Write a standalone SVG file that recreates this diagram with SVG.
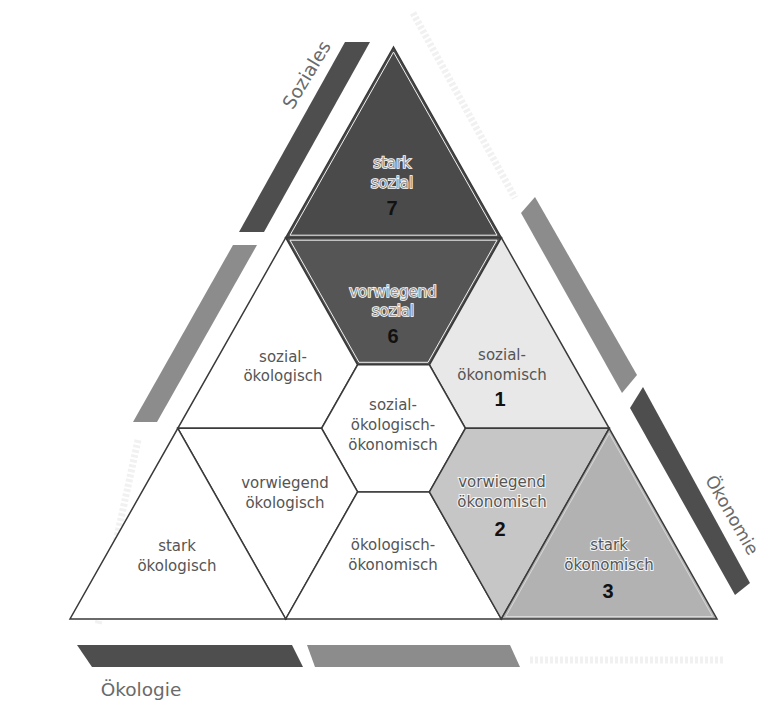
<svg xmlns="http://www.w3.org/2000/svg" width="765" height="704" viewBox="0 0 765 704">
<style>
.reg{stroke:#3a3a3a;stroke-width:1.5;stroke-linejoin:miter}
.inner{fill:none;stroke:#f2f2f2;stroke-width:1}
.lbl{font-family:"DejaVu Sans",sans-serif;font-size:15px;fill:#555;text-anchor:middle}
.halo{font-family:"DejaVu Sans",sans-serif;font-size:15px;fill:#9a9a9a;stroke:#ffffff;stroke-width:1.6;paint-order:stroke;text-anchor:middle}
.halo2{font-family:"DejaVu Sans",sans-serif;font-size:15px;fill:#555;stroke:#f4f4f4;stroke-width:2;paint-order:stroke;text-anchor:middle}
.num{font-family:"Liberation Sans",Arial,sans-serif;font-size:20px;font-weight:bold;fill:#111;text-anchor:middle}
.axis{font-family:"DejaVu Sans",sans-serif;font-size:18.5px;fill:#6a6a6a;text-anchor:middle}
.dark{fill:#4e4e4e}
.mid{fill:#8c8c8c}
.faint{fill:none;stroke:#f1f1f1;stroke-width:7;stroke-dasharray:3 2}
</style>
<rect width="765" height="704" fill="#ffffff"/>

<g id="bars">
  <polygon class="dark" points="345,42 370,42 264,232 239,232"/>
  <polygon class="mid" points="233,245 257,245 157,422 133,422"/>
  <polygon class="mid" points="535,197 637,375 622,393 521,213"/>
  <polygon class="dark" points="643,387 750,583 735,595 630,408"/>
  <polygon class="dark" points="77,645 292,645 303,667 92,667"/>
  <polygon class="mid" points="307,645 510,645 520,667 315,667"/>
  <line class="faint" x1="413" y1="13" x2="515" y2="198"/>
  <line class="faint" x1="138" y1="440" x2="98" y2="625"/>
  <line class="faint" x1="530" y1="660" x2="725" y2="660"/>
</g>

<g id="axis-labels">
  <text class="axis" transform="translate(307,75) rotate(-59)" y="6">Soziales</text>
  <text class="axis" style="font-size:17.5px" transform="translate(732,515) rotate(60)" y="6">Ökonomie</text>
  <text class="axis" x="141" y="696">Ökologie</text>
</g>

<g id="stark-sozial">
  <polygon class="reg" fill="#4a4a4a" points="393.5,47 285.7,237.7 501.3,237.7"/>
  <polygon class="inner" points="393.5,52.1 290,235.2 497,235.2"/>
  <text class="halo" x="392" y="168">stark</text>
  <text class="halo" x="392" y="188">sozial</text>
  <text class="num" x="392" y="215">7</text>
</g>

<g id="vorwiegend-sozial">
  <polygon class="reg" fill="#555555" points="285.7,237.7 501.3,237.7 429.4,364.8 357.6,364.8"/>
  <polygon class="inner" points="290,240.2 497,240.2 428,362.3 359,362.3"/>
  <text class="halo" x="393" y="297">vorwiegend</text>
  <text class="halo" x="393" y="316">sozial</text>
  <text class="num" x="393" y="343">6</text>
</g>

<g id="sozial-oekologisch">
  <polygon class="reg" fill="#ffffff" points="285.7,237.7 357.6,364.8 321.6,428.3 177.8,428.3"/>
  <text class="lbl" x="283" y="362">sozial-</text>
  <text class="lbl" x="283" y="381">ökologisch</text>
</g>

<g id="sozial-oekonomisch">
  <polygon class="reg" fill="#e8e8e8" points="501.3,237.7 609.2,428.3 465.4,428.3 429.4,364.8"/>
  <text class="lbl" x="502" y="360">sozial-</text>
  <text class="lbl" x="502" y="380">ökonomisch</text>
  <text class="num" x="500" y="406">1</text>
</g>

<g id="sozial-oekologisch-oekonomisch">
  <polygon class="reg" fill="#ffffff" points="357.6,364.8 429.4,364.8 465.4,428.3 429.4,491.9 357.6,491.9 321.6,428.3"/>
  <text class="lbl" x="393" y="410">sozial-</text>
  <text class="lbl" x="393" y="430">ökologisch-</text>
  <text class="lbl" x="393" y="450">ökonomisch</text>
</g>

<g id="vorwiegend-oekologisch">
  <polygon class="reg" fill="#ffffff" points="177.8,428.3 321.6,428.3 357.6,491.9 285.7,619"/>
  <text class="lbl" x="285" y="488">vorwiegend</text>
  <text class="lbl" x="285" y="508">ökologisch</text>
</g>

<g id="stark-oekologisch">
  <polygon class="reg" fill="#ffffff" points="177.8,428.3 285.7,619 70,619"/>
  <text class="lbl" x="177" y="551">stark</text>
  <text class="lbl" x="177" y="571">ökologisch</text>
</g>

<g id="oekologisch-oekonomisch">
  <polygon class="reg" fill="#ffffff" points="357.6,491.9 429.4,491.9 501.3,619 285.7,619"/>
  <text class="lbl" x="393" y="550">ökologisch-</text>
  <text class="lbl" x="393" y="570">ökonomisch</text>
</g>

<g id="vorwiegend-oekonomisch">
  <polygon class="reg" fill="#c6c6c6" points="465.4,428.3 609.2,428.3 501.3,619 429.4,491.9"/>
  <text class="halo2" x="502" y="487">vorwiegend</text>
  <text class="halo2" x="502" y="507">ökonomisch</text>
  <text class="num" x="500" y="536">2</text>
</g>

<g id="stark-oekonomisch">
  <polygon class="reg" fill="#b2b2b2" points="609.2,428.3 717,619 501.3,619"/>
  <polygon class="inner" opacity="0.6" points="609.2,433.4 712.7,616.5 505.7,616.5"/>
  <text class="halo2" x="609" y="550">stark</text>
  <text class="halo2" x="609" y="570">ökonomisch</text>
  <text class="num" x="608" y="598">3</text>
</g>
</svg>
